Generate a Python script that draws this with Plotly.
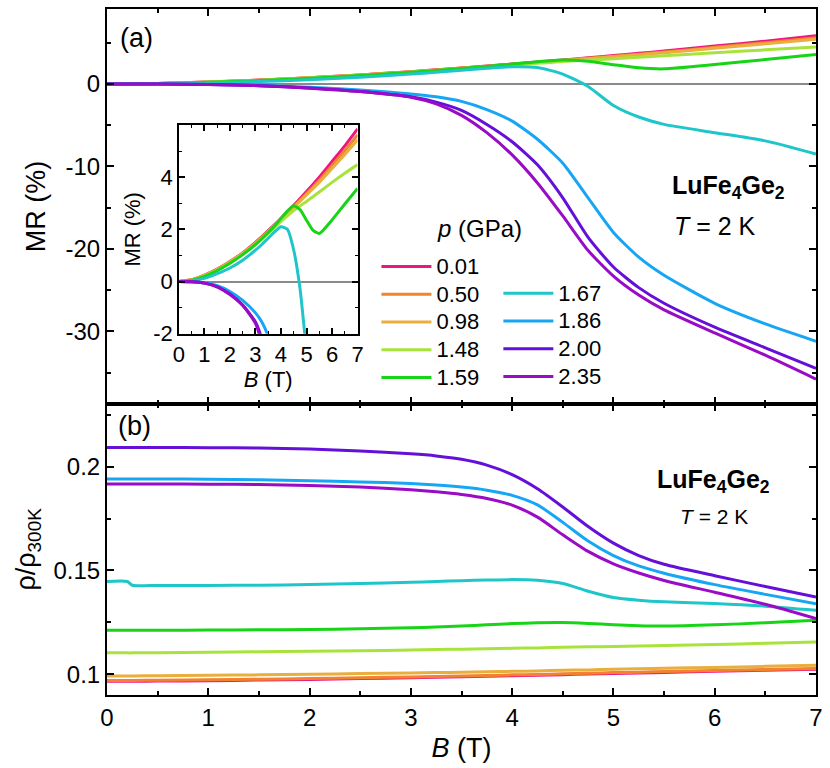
import plotly.graph_objects as go

# pressures (GPa) and colours
pressures = ['0.01', '0.50', '0.98', '1.48', '1.59', '1.67', '1.86', '2.00', '2.35']
colors = ['#f0157e', '#f2822e', '#e9ae3e', '#a8e33c', '#17d417', '#1fc6c9', '#16a6f3', '#6510d9', '#9a0bc7']

# ---- MR (%) vs B, panel (a) and inset
B_mr = [0, 0.5, 1, 1.5, 2, 2.5, 3, 3.25, 3.5, 3.75, 4, 4.25, 4.5, 4.75, 5, 5.25, 5.5, 6, 6.5, 7]
mr_001 = [0, 0.07, 0.25, 0.48, 0.77, 1.1, 1.5, 1.72, 1.95, 2.18, 2.42, 2.67, 2.92, 3.18, 3.45, 3.72, 4.0, 4.6, 5.2, 5.85]
mr_050 = [0, 0.07, 0.24, 0.47, 0.76, 1.09, 1.48, 1.7, 1.93, 2.16, 2.4, 2.64, 2.88, 3.12, 3.37, 3.62, 3.88, 4.45, 5.02, 5.62]
mr_098 = [0, 0.07, 0.24, 0.46, 0.75, 1.08, 1.46, 1.68, 1.9, 2.13, 2.37, 2.6, 2.84, 3.08, 3.32, 3.56, 3.8, 4.33, 4.87, 5.42]
mr_148 = [0, 0.06, 0.22, 0.44, 0.72, 1.04, 1.42, 1.63, 1.85, 2.07, 2.3, 2.52, 2.72, 2.9, 3.07, 3.25, 3.43, 3.8, 4.15, 4.48]
mr_159 = [0, 0.05, 0.2, 0.42, 0.7, 1.03, 1.42, 1.64, 1.88, 2.13, 2.42, 2.7, 2.9, 2.75, 2.35, 1.97, 1.84, 2.36, 2.97, 3.57]
mr_167 = [0, 0.03, 0.12, 0.3, 0.52, 0.82, 1.2, 1.42, 1.66, 1.9, 2.1, 2.0, 1.2, -0.3, -2.6, -4.0, -4.9, -5.9, -6.9, -8.5]
mr_186 = [0, -0.01, -0.05, -0.16, -0.38, -0.72, -1.2, -1.55, -2.1, -3.1, -4.5, -6.7, -9.6, -13.8, -18.0, -21.0, -23.2, -26.6, -29.1, -31.2]
mr_200 = [0, -0.01, -0.06, -0.2, -0.48, -0.9, -1.55, -2.2, -3.2, -4.9, -7.0, -9.8, -13.8, -18.6, -22.2, -24.7, -26.6, -29.5, -32.0, -34.5]
mr_235 = [0, -0.01, -0.06, -0.2, -0.5, -0.92, -1.6, -2.4, -3.8, -5.9, -8.6, -12.0, -16.0, -20.2, -23.3, -25.6, -27.4, -30.2, -32.9, -35.8]
mr_all = [mr_001, mr_050, mr_098, mr_148, mr_159, mr_167, mr_186, mr_200, mr_235]

# ---- rho/rho300K vs B, panel (b)
B_rho = [0, 0.2, 0.25, 0.5, 1, 1.5, 2, 2.5, 3, 3.25, 3.5, 3.75, 4, 4.25, 4.5, 4.75, 5, 5.25, 5.5, 6, 6.5, 7]
rho_001 = [0.0966, 0.0966, 0.0966, 0.0967, 0.0969, 0.0972, 0.0975, 0.0979, 0.0983, 0.0985, 0.0988, 0.099, 0.0993, 0.0995, 0.0998, 0.1001, 0.1004, 0.1006, 0.1009, 0.1014, 0.1019, 0.1024]
rho_050 = [0.0970, 0.0970, 0.0970, 0.0971, 0.0973, 0.0976, 0.0979, 0.0983, 0.0987, 0.0989, 0.0992, 0.0994, 0.0997, 0.0999, 0.1002, 0.1005, 0.1008, 0.1010, 0.1013, 0.1018, 0.1023, 0.1028]
rho_098 = [0.0992, 0.0992, 0.0992, 0.0993, 0.0995, 0.0997, 0.1, 0.1003, 0.1006, 0.1008, 0.101, 0.1012, 0.1014, 0.1016, 0.1019, 0.1021, 0.1024, 0.1026, 0.1029, 0.1033, 0.1038, 0.1043]
rho_148 = [0.1103, 0.1103, 0.1103, 0.1104, 0.1106, 0.1108, 0.1111, 0.1113, 0.1117, 0.1119, 0.1121, 0.1123, 0.1125, 0.1127, 0.113, 0.1132, 0.1134, 0.1136, 0.1138, 0.1143, 0.1149, 0.1155]
rho_159 = [0.1212, 0.1212, 0.1212, 0.1212, 0.1213, 0.1214, 0.1216, 0.1219, 0.1224, 0.1228, 0.1232, 0.1238, 0.1244, 0.1248, 0.1249, 0.1245, 0.1239, 0.1234, 0.1232, 0.1238, 0.1248, 0.126]
rho_167 = [0.1447, 0.1447, 0.1429, 0.1428, 0.1428, 0.1429, 0.1432, 0.1437, 0.1443, 0.1447, 0.1451, 0.1454, 0.1456, 0.1453, 0.1437, 0.1400, 0.1370, 0.1357, 0.1349, 0.1341, 0.1328, 0.1308]
rho_186 = [0.1941, 0.1941, 0.1941, 0.1941, 0.194, 0.1937, 0.1933, 0.1927, 0.1919, 0.1912, 0.1902, 0.1887, 0.1862, 0.1816, 0.1732, 0.1642, 0.1572, 0.1522, 0.1487, 0.1432, 0.1385, 0.134]
rho_200 = [0.2093, 0.2093, 0.2093, 0.2093, 0.2092, 0.209, 0.2085, 0.2076, 0.2062, 0.2052, 0.2036, 0.2008, 0.1962, 0.1894, 0.1806, 0.1712, 0.1632, 0.1572, 0.1530, 0.1475, 0.1423, 0.1372]
rho_235 = [0.1917, 0.1917, 0.1917, 0.1917, 0.1916, 0.1914, 0.191, 0.1902, 0.1889, 0.1879, 0.1866, 0.1847, 0.1815, 0.1757, 0.1672, 0.1592, 0.1532, 0.1488, 0.1452, 0.1395, 0.1337, 0.1268]
rho_all = [rho_001, rho_050, rho_098, rho_148, rho_159, rho_167, rho_186, rho_200, rho_235]

mr_ticks = [-30, -20, -10, 0]
mr_ticktext = ['-30', '-20', '-10', '0']
inset_ticks = [-2, 0, 2, 4]
inset_ticktext = ['-2', '0', '2', '4']

FONT = 'Liberation Sans, Arial, sans-serif'

fig = go.Figure()

for i, p in enumerate(pressures):
    col = colors[i]
    # panel (a)
    fig.add_trace(go.Scatter(x=B_mr, y=mr_all[i], mode='lines',
                             name='<span style="font-size:22px">' + p + '</span>',
                             line=dict(color=col, width=3, shape='spline', smoothing=0.6),
                             xaxis='x2', yaxis='y2',
                             legend='legend' if i < 5 else 'legend2'))
    # panel (b)
    fig.add_trace(go.Scatter(x=B_rho, y=rho_all[i], mode='lines', showlegend=False,
                             line=dict(color=col, width=3, shape='spline', smoothing=0.7),
                             xaxis='x', yaxis='y'))
    # inset
    fig.add_trace(go.Scatter(x=B_mr, y=mr_all[i], mode='lines', showlegend=False,
                             line=dict(color=col, width=3, shape='spline', smoothing=0.6),
                             xaxis='x3', yaxis='y3'))

ax = dict(showline=True, linecolor='black', linewidth=2, mirror='ticks', ticks='inside',
          tickcolor='black', tickwidth=1.5, ticklen=7, showgrid=False, zeroline=False,
          tickfont=dict(size=24, color='black'))
xminor = dict(dtick=0.5, ticklen=4, tickwidth=1.5, tickcolor='black', ticks='inside')

fig.update_layout(
    width=830, height=768,
    margin=dict(l=107, r=10, t=7, b=73),
    paper_bgcolor='white', plot_bgcolor='white',
    font=dict(family=FONT, color='black'),
    xaxis=dict(ax, domain=[0, 1], anchor='y', range=[0, 7], dtick=1, minor=xminor,
               title=dict(text='<i>B</i> (T)', font=dict(size=27), standoff=8)),
    yaxis=dict(ax, domain=[0, 0.4244], anchor='x', range=[0.090, 0.2303], dtick=0.05, tick0=0,
               minor=dict(dtick=0.025, ticklen=4, tickwidth=1.5, tickcolor='black', ticks='inside'),
               title=dict(text='ρ/ρ<sub>300K</sub>', font=dict(size=27), standoff=10)),
    xaxis2=dict(ax, domain=[0, 1], anchor='y2', range=[0, 7], dtick=1, minor=xminor,
                matches='x', showticklabels=False),
    yaxis2=dict(ax, domain=[0.4244, 1], anchor='x2', range=[-38.8, 9.1],
                tickvals=mr_ticks, ticktext=mr_ticktext,
                minor=dict(tickvals=[-35, -25, -15, -5, 5], ticklen=4, tickwidth=1.5,
                           tickcolor='black', ticks='inside'),
                zeroline=True, zerolinecolor='#8a8a8a', zerolinewidth=1.5,
                title=dict(text='MR (%)', font=dict(size=27), standoff=12)),
    xaxis3=dict(ax, domain=[0.1014, 0.3534], anchor='y3', range=[0, 7], dtick=1,
                linewidth=1.5, ticklen=6, tickfont=dict(size=22, color='black'),
                minor=dict(dtick=0.5, ticklen=3, tickwidth=1.2, tickcolor='black', ticks='inside'),
                title=dict(text='<i>B</i> (T)', font=dict(size=22), standoff=4)),
    yaxis3=dict(ax, domain=[0.5266, 0.8310], anchor='x3', range=[-2, 6],
                tickvals=inset_ticks, ticktext=inset_ticktext,
                linewidth=1.5, ticklen=6, tickfont=dict(size=22, color='black'),
                minor=dict(tickvals=[-1, 1, 3, 5], ticklen=3, tickwidth=1.2,
                           tickcolor='black', ticks='inside'),
                zeroline=True, zerolinecolor='#8a8a8a', zerolinewidth=2,
                title=dict(text='MR (%)', font=dict(size=22), standoff=6)),
    legend=dict(x=0.380, y=0.652, xanchor='left', yanchor='top', bgcolor='rgba(0,0,0,0)',
                font=dict(size=19), tracegroupgap=0, itemwidth=50),
    legend2=dict(x=0.552, y=0.613, xanchor='left', yanchor='top', bgcolor='rgba(0,0,0,0)',
                 font=dict(size=19), tracegroupgap=0, itemwidth=50),
)

ann = [
    dict(text='(a)', x=0.042, y=0.958, size=27, anchor='center'),
    dict(text='(b)', x=0.039, y=0.392, size=27, anchor='center'),
    dict(text='<b>LuFe<sub>4</sub>Ge<sub>2</sub></b>', x=0.7938, y=0.740, size=25, anchor='left'),
    dict(text='<i>T</i> = 2 K', x=0.7966, y=0.684, size=25, anchor='left'),
    dict(text='<b>LuFe<sub>4</sub>Ge<sub>2</sub></b>', x=0.855, y=0.3125, size=25, anchor='center'),
    dict(text='<i>T</i> = 2 K', x=0.856, y=0.260, size=21, anchor='center'),
    dict(text='<i>p</i> (GPa)', x=0.4628, y=0.680, size=24, anchor='left'),
]
for a in ann:
    fig.add_annotation(text=a['text'], x=a['x'], y=a['y'], xref='paper', yref='paper',
                       xanchor=a['anchor'], yanchor='middle', showarrow=False,
                       font=dict(size=a['size'], color='black', family=FONT))

fig.write_html("out.html", config={'displayModeBar': False},
               post_script="document.body.style.margin='0';")
